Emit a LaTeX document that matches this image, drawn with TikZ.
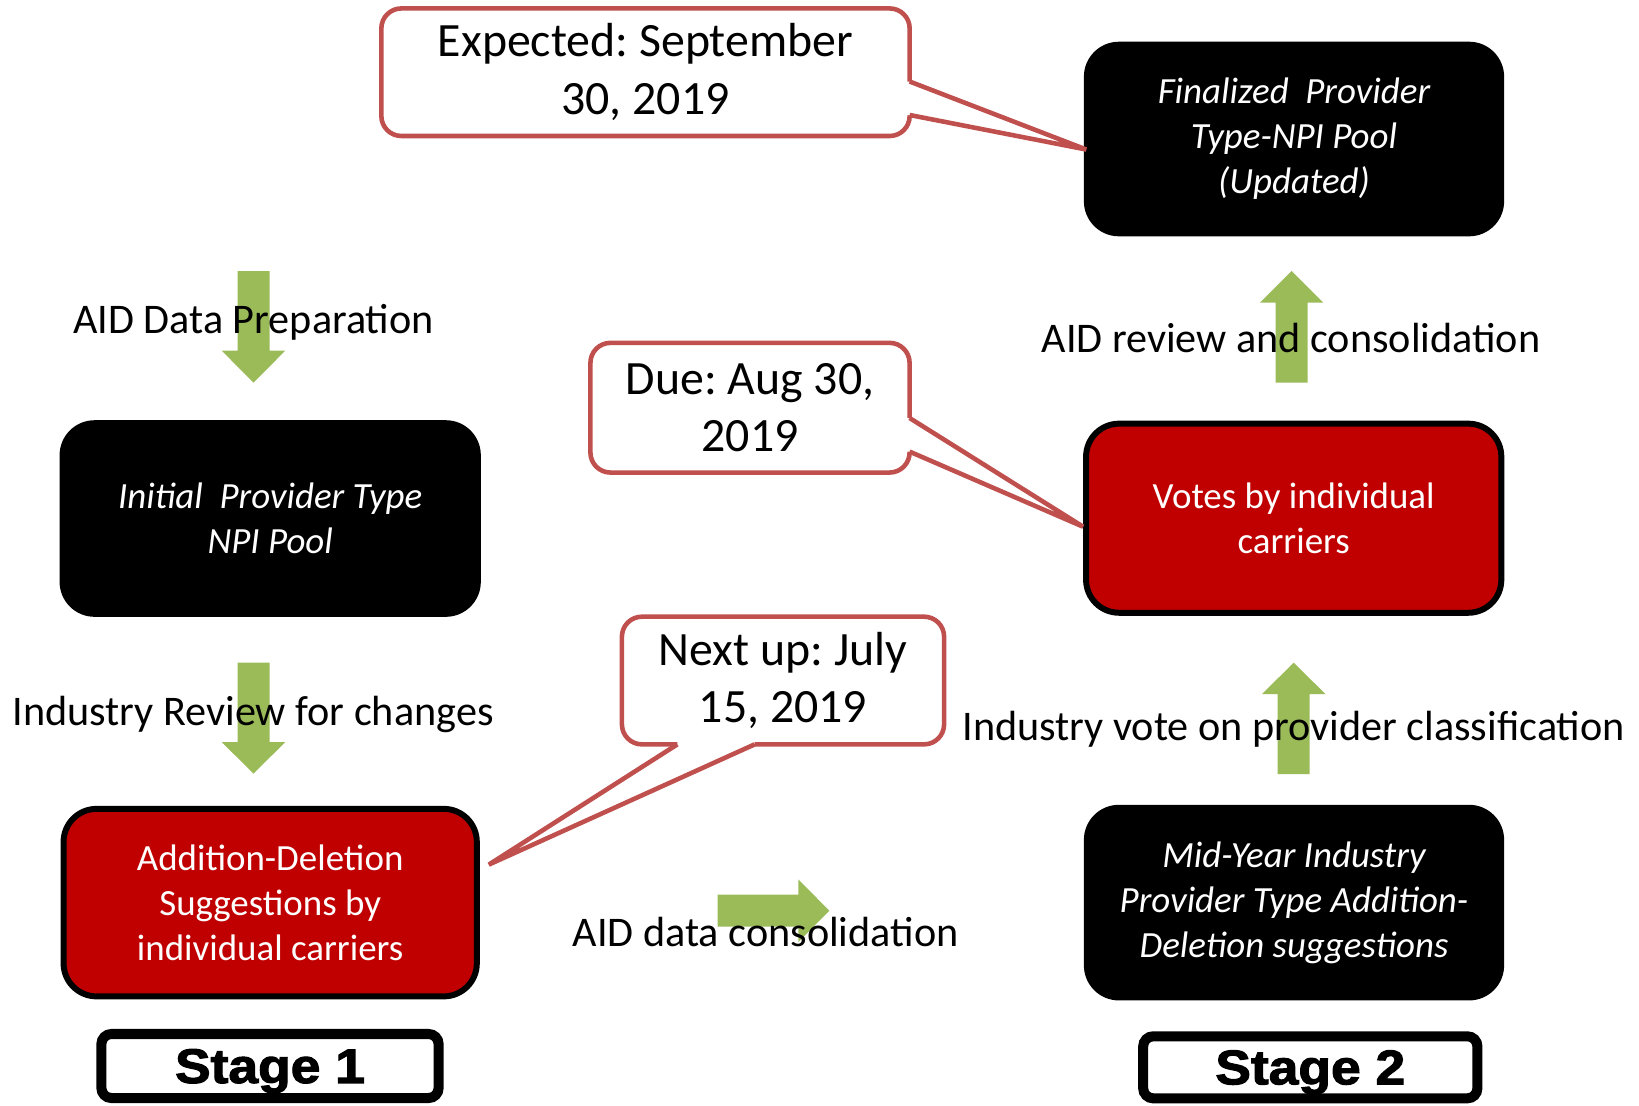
\documentclass[tikz,border=0pt]{standalone}
\usepackage{fontspec}
\usepackage{graphicx}
\setmainfont{Carlito}
\newfontfamily\stagefont{Liberation Sans}[BoldFeatures={FakeBold=2.2}]
\usetikzlibrary{calc}
\definecolor{boxred}{HTML}{C00000}
\definecolor{callred}{HTML}{C0504D}
\definecolor{agreen}{HTML}{9BBB59}
\newcommand\mybxfont{\fontsize{10.5}{12.8}\selectfont}
\newcommand\mycofont{\fontsize{13.6}{16.4}\selectfont}
\newcommand\mylbfont{\fontsize{12}{14.6}\selectfont}
\newcommand\mystagetext[1]{\scalebox{1.1}[1]{#1}}
\frenchspacing
\begin{document}
\begin{tikzpicture}[x=0.01cm,y=-0.01cm,
  darkbox/.style={fill=black, rounded corners=0.35cm, text=white, align=center, inner sep=0pt, font=\mybxfont\itshape},
  redbox/.style={fill=boxred, draw=black, line width=1.7pt, rounded corners=0.33cm, text=white, align=center, inner sep=0pt, font=\mybxfont},
  callbox/.style={draw=callred, fill=white, line width=1.3pt, rounded corners=0.2cm, align=center, inner sep=0pt, outer sep=0pt, font=\mycofont},
  stagebox/.style={draw=black, fill=white, line width=2.85pt, rounded corners=0.1cm, inner sep=0pt, text depth=0pt, font=\stagefont\bfseries\fontsize{13.8}{16}\selectfont},
  lbl/.style={font=\mylbfont, inner sep=0pt},
  garrow/.style={fill=agreen},
  wedgeline/.style={draw=callred, line width=1.3pt}
]
\useasboundingbox (0,0) rectangle (1639,1105);

% green block arrows
\fill[garrow] (237.5,271) -- (269.5,271) -- (269.5,350.7) -- (285.2,350.7) -- (253.5,382.7) -- (221.8,350.7) -- (237.5,350.7) -- cycle;
\fill[garrow] (237.5,662.7) -- (269.5,662.7) -- (269.5,742.2) -- (285.2,742.2) -- (253.5,773.5) -- (221.8,742.2) -- (237.5,742.2) -- cycle;
\fill[garrow] (1275.5,382.7) -- (1307.5,382.7) -- (1307.5,302.7) -- (1323.2,302.7) -- (1291.5,271) -- (1259.8,302.7) -- (1275.5,302.7) -- cycle;
\fill[garrow] (1277.7,774) -- (1309.7,774) -- (1309.7,694) -- (1325.4,694) -- (1293.7,662.7) -- (1262,694) -- (1277.7,694) -- cycle;
\fill[garrow] (717.7,894.7) -- (798.3,894.7) -- (798.3,879.3) -- (829.3,910.7) -- (798.3,942.1) -- (798.3,926.7) -- (717.7,926.7) -- cycle;

% labels
\node[lbl] (l1) at (253.5,322.5) {AID Data Preparation};
\node[lbl] (l2) at (253,714.5) {Industry Review for changes};
\node[lbl] (l3) at (1291,337.5) {AID review and consolidation};
\node[lbl] (l4) at (1293.6,729) {Industry vote on provider classification};
\node[lbl] (l5) at (765.7,932) {AID data consolidation};

% process boxes
\node[darkbox, minimum width=4.2cm, minimum height=1.945cm] (fin) at (1294,139) {Finalized\ \ Provider\\Type-NPI Pool\\(Updated)};
\node[darkbox, minimum width=4.21cm, minimum height=1.965cm] (init) at (270.2,518.5) {Initial\ \ Provider Type\\NPI Pool};
\node[redbox, minimum width=4.15cm, minimum height=1.89cm] (votes) at (1293.7,518.2) {Votes by individual\\carriers};
\node[redbox, minimum width=4.13cm, minimum height=1.874cm] (add) at (270.2,902.6) {Addition-Deletion\\Suggestions by\\individual carriers};
\node[darkbox, minimum width=4.2cm, minimum height=1.955cm] (mid) at (1294,902.6) {Mid-Year Industry\\Provider Type Addition-\\Deletion suggestions};

% stage boxes
\node[stagebox, minimum width=3.37cm, minimum height=0.64cm] (s1) at (270,1066) {\mystagetext{Stage 1}};
\node[stagebox, minimum width=3.34cm, minimum height=0.62cm] (s2) at (1310.3,1067.3) {\mystagetext{Stage 2}};

% callouts
\node[callbox, minimum width=5.28cm, minimum height=1.275cm] (c1) at (645.5,72.2) {Expected: September\\30, 2019};
\node[callbox, minimum width=3.19cm, minimum height=1.296cm] (c2) at (750,407.7) {Due: Aug 30,\\2019};
\node[callbox, minimum width=3.22cm, minimum height=1.276cm] (c3) at (783,680.5) {Next up: July\\15, 2019};

% callout pointers
\coordinate (c1a) at ($(c1.east)+(0,9.3)$);
\coordinate (c1b) at ($(c1.east)+(0,42.8)$);
\coordinate (c1t) at ($(fin.west)+(3,10.5)$);
\fill[white] ($(c1a)+(-4,0)$) -- (c1a) -- (c1t) -- (c1b) -- ($(c1b)+(-4,0)$) -- cycle;
\draw[wedgeline] (c1a) -- (c1t) -- (c1b);

\coordinate (c2a) at ($(c2.east)+(0,10.3)$);
\coordinate (c2b) at ($(c2.east)+(0,43.9)$);
\coordinate (c2t) at ($(votes.west)+(0,8.5)$);
\fill[white] ($(c2a)+(-4,0)$) -- (c2a) -- (c2t) -- (c2b) -- ($(c2b)+(-4,0)$) -- cycle;
\draw[wedgeline] (c2a) -- (c2t) -- (c2b);

\coordinate (c3a) at ($(c3.south)+(-105.6,0)$);
\coordinate (c3b) at ($(c3.south)+(-28.3,0)$);
\coordinate (c3t) at ($(add.east)+(9,-38)$);
\fill[white] ($(c3a)+(0,-4)$) -- (c3a) -- (c3t) -- (c3b) -- ($(c3b)+(0,-4)$) -- cycle;
\draw[wedgeline] (c3a) -- (c3t) -- (c3b);
\end{tikzpicture}
\end{document}
